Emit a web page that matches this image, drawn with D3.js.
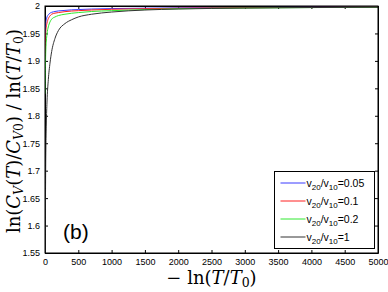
<!DOCTYPE html>
<html>
<head>
<meta charset="utf-8">
<script src="https://cdn.jsdelivr.net/npm/d3@7"></script>
<style>
  body { margin: 0; background: #fff; }
  svg { display: block; }
  .tick text { font-family: "Liberation Sans", Arial, sans-serif; font-size: 9px; }
  .math { font-family: "DejaVu Serif", "Liberation Serif", serif; }
</style>
</head>
<body>
<div id="chart"></div>
<script>
// x values: -ln(T/T0)
var xs = [0, 5, 10, 20, 30, 50, 75, 100, 150, 200, 300, 400, 500, 700, 1000, 1500, 2000, 3000, 4000, 5000];

// ratio ln(Cv(T)/Cv0)/ln(T/T0)
var v005 = [1.935, 1.955, 1.966, 1.975, 1.980, 1.984, 1.987, 1.9885, 1.990, 1.991, 1.992, 1.993, 1.9935, 1.9945, 1.9953, 1.996, 1.9967, 1.9973, 1.9978, 1.998];
var v01  = [1.90, 1.93, 1.948, 1.962, 1.969, 1.977, 1.982, 1.985, 1.987, 1.988, 1.9897, 1.9908, 1.9915, 1.9927, 1.994, 1.995, 1.996, 1.997, 1.9975, 1.998];
var v02  = [1.84, 1.88, 1.91, 1.936, 1.949, 1.962, 1.971, 1.976, 1.980, 1.9825, 1.985, 1.9868, 1.988, 1.990, 1.9915, 1.9935, 1.995, 1.9963, 1.9971, 1.9977];
var v1   = [1.45, 1.60, 1.70, 1.785, 1.825, 1.866, 1.896, 1.917, 1.941, 1.955, 1.968, 1.975, 1.980, 1.985, 1.989, 1.9927, 1.9945, 1.9963, 1.9972, 1.9978];

var seriesNames = ["0.05", "0.1", "0.2", "1"];
var seriesColors = ["#3a3aff", "#ff2020", "#30e830", "#333333"];
var xTicks = [0, 500, 1000, 1500, 2000, 2500, 3000, 3500, 4000, 4500, 5000];
var yTicks = [1.55, 1.6, 1.65, 1.7, 1.75, 1.8, 1.85, 1.9, 1.95, 2];

var W = 388, H = 292;
var margin = {top: 6, right: 10, bottom: 39, left: 45},
    width = W - margin.left - margin.right,
    height = H - margin.top - margin.bottom;

var svg = d3.select("#chart").append("svg")
    .attr("width", W)
    .attr("height", H);

var g = svg.append("g")
    .attr("transform", "translate(" + margin.left + "," + margin.top + ")");

var x = d3.scaleLinear().domain([0, 5000]).range([0, width]);
var y = d3.scaleLinear().domain([1.55, 2]).range([height, 0]);

g.append("clipPath").attr("id", "clip")
  .append("rect").attr("width", width).attr("height", height);

// axes, matlab style ticks pointing inward
g.append("g")
    .attr("transform", "translate(0," + height + ")")
    .call(d3.axisBottom(x).tickValues(xTicks).tickSizeInner(-3).tickSizeOuter(0).tickPadding(6).tickFormat(d3.format("d")));
g.append("g")
    .call(d3.axisTop(x).tickValues(xTicks).tickSizeInner(-3).tickSizeOuter(0).tickFormat(""));
g.append("g")
    .call(d3.axisLeft(y).tickValues(yTicks).tickSizeInner(-3).tickSizeOuter(0).tickPadding(5).tickFormat(function(d) { return d3.format("")(+d.toFixed(2)); }));
g.append("g")
    .attr("transform", "translate(" + width + ",0)")
    .call(d3.axisRight(y).tickValues(yTicks).tickSizeInner(-3).tickSizeOuter(0).tickFormat(""));

g.selectAll(".domain").attr("stroke", "#000");
g.selectAll(".tick line").attr("stroke", "#000");
g.selectAll(".tick text").attr("fill", "#000");

var line = d3.line()
    .x(function(d) { return x(d[0]); })
    .y(function(d) { return y(d[1]); })
    .curve(d3.curveMonotoneX);

var allSeries = [v005, v01, v02, v1];
allSeries.forEach(function(vals, i) {
    g.append("path")
        .datum(xs.map(function(xv, j) { return [xv, vals[j]]; }))
        .attr("clip-path", "url(#clip)")
        .attr("fill", "none")
        .attr("stroke", seriesColors[i])
        .attr("stroke-width", 1)
        .attr("d", line);
});

// frame
g.append("rect")
    .attr("width", width).attr("height", height)
    .attr("fill", "none").attr("stroke", "#000").attr("stroke-width", 1);

// legend
var lg = g.append("g").attr("transform", "translate(" + (274.5 - margin.left) + "," + (171.5 - margin.top) + ")");
lg.append("rect").attr("width", 100).attr("height", 77)
    .attr("fill", "#fff").attr("stroke", "#000").attr("stroke-width", 1);
seriesNames.forEach(function(n, i) {
    var yy = 11.5 + i * 18;
    lg.append("line").attr("x1", 6).attr("x2", 31).attr("y1", yy).attr("y2", yy)
        .attr("stroke", seriesColors[i]).attr("stroke-width", 1);
    var t = lg.append("text").attr("x", 32).attr("y", yy + 3.5)
        .style("font-family", "Liberation Sans, Arial, sans-serif").style("font-size", "10.5px");
    t.append("tspan").text("v");
    t.append("tspan").attr("dy", 3).style("font-size", "8px").text("20");
    t.append("tspan").attr("dy", -3).text("/v");
    t.append("tspan").attr("dy", 3).style("font-size", "8px").text("10");
    t.append("tspan").attr("dy", -3).text("=" + n);
});

// panel label
g.append("text")
    .attr("x", 63 - margin.left).attr("y", 239 - margin.top)
    .style("font-family", "Liberation Sans, Arial, sans-serif").style("font-size", "21px")
    .text("(b)");

// x label: -ln(T/T0)
var xl = svg.append("text").attr("class", "math")
    .attr("x", margin.left + width / 2).attr("y", 284)
    .attr("text-anchor", "middle").style("font-size", "18px");
xl.append("tspan").text("\u2212 ln(");
xl.append("tspan").style("font-style", "italic").text("T");
xl.append("tspan").text("/");
xl.append("tspan").style("font-style", "italic").text("T");
xl.append("tspan").attr("dy", 3).style("font-size", "12.5px").text("0");
xl.append("tspan").attr("dy", -3).text(")");

// y label: ln(Cv(T)/Cv0)/ln(T/T0)
var yl = svg.append("text").attr("class", "math")
    .attr("transform", "translate(20,131) rotate(-90)")
    .attr("text-anchor", "middle").style("font-size", "18px");
yl.append("tspan").text("ln(");
yl.append("tspan").style("font-style", "italic").text("C");
yl.append("tspan").attr("dy", 3).style("font-size", "12.5px").style("font-style", "italic").text("V");
yl.append("tspan").attr("dy", -3).text("(");
yl.append("tspan").style("font-style", "italic").text("T");
yl.append("tspan").text(")/");
yl.append("tspan").style("font-style", "italic").text("C");
yl.append("tspan").attr("dy", 3).style("font-size", "12.5px").style("font-style", "italic").text("V");
yl.append("tspan").style("font-size", "12.5px").text("0");
yl.append("tspan").attr("dy", -3).text(") / ln(");
yl.append("tspan").style("font-style", "italic").text("T");
yl.append("tspan").text("/");
yl.append("tspan").style("font-style", "italic").text("T");
yl.append("tspan").attr("dy", 3).style("font-size", "12.5px").text("0");
yl.append("tspan").attr("dy", -3).text(")");
</script>
</body>
</html>
